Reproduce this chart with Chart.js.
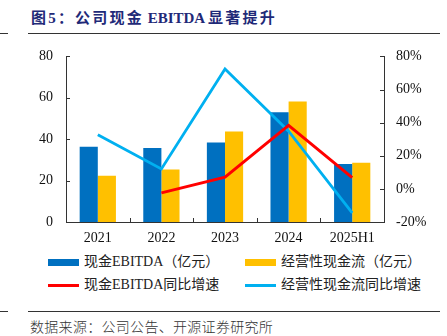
<!DOCTYPE html>
<html>
<head>
<meta charset="utf-8">
<script src="https://cdn.jsdelivr.net/npm/chart.js@4.4.1/dist/chart.umd.min.js"></script>
<style>
  body { margin: 0; width: 447px; height: 336px; background: #fff; position: relative; overflow: hidden;
         font-family: "Liberation Serif", "Noto Sans CJK SC", serif; }
  .title { position: absolute; left: 31px; top: 6px; font-size: 15px; font-weight: bold; color: #1f2a78;
           font-family: "Liberation Serif", "Noto Sans CJK SC", serif; white-space: nowrap; }
  .title .cjk { letter-spacing: 2.2px; }
  .rule { position: absolute; height: 1px; background: #333; }
  #box { position: absolute; left: 0; top: 35px; width: 447px; height: 215px; }
  #legend { position: absolute; left: 0; top: 253px; width: 447px; }
  .item { position: absolute; font-size: 14px; color: #222; white-space: nowrap; line-height: 18px; }
  .sw { position: absolute; left: 0; width: 31px; }
  .item span { position: absolute; left: 36px; top: 0; }
  .source { position: absolute; left: 30px; top: 316px; font-size: 14px; color: #333;
            font-family: "Noto Sans CJK SC", sans-serif; font-weight: 300; white-space: nowrap;
            letter-spacing: 0.3px; }
</style>
</head>
<body>
<div class="title"><span class="cjk">图5：公司现金</span> EBITDA <span class="cjk">显著提升</span></div>
<div class="rule" style="left:0;width:8px;top:33px"></div>
<div class="rule" style="left:28px;width:412px;top:33px"></div>
<div id="box"><canvas id="chart" width="447" height="215"></canvas></div>
<div id="legend"></div>
<div class="rule" style="left:0;width:8px;top:311px"></div>
<div class="rule" style="left:28px;width:412px;top:311px"></div>
<div class="source">数据来源：公司公告、开源证券研究所</div>
<script>
var years = ["2021", "2022", "2023", "2024", "2025H1"];
var ebitda = [36.4, 35.8, 38.4, 53.0, 28.0];      // 亿元
var opCash = [22.4, 25.4, 43.7, 58.2, 28.6];      // 亿元
var ebitdaYoy = [null, -2.4, 7.1, 38.3, 6.8];     // %
var opCashYoy = [32.7, 12.0, 72.4, 34.8, -14.5];  // %
var leftTicks = [0, 20, 40, 60, 80];
var rightTicks = [-20, 0, 20, 40, 60, 80];

var axisFont = { family: "Liberation Serif", size: 14 };

// small inward tick marks on both y axes, and category separators on x
var tickMarks = {
  id: "tickMarks",
  afterDraw: function(chart) {
    let ctx = chart.ctx;
    let area = chart.chartArea;
    ctx.save();
    ctx.strokeStyle = "#333";
    ctx.lineWidth = 1;
    ctx.beginPath();
    chart.scales.y.ticks.forEach(function(t) {
      let py = Math.round(chart.scales.y.getPixelForValue(t.value)) + 0.5;
      ctx.moveTo(area.left, py);
      ctx.lineTo(area.left + 4, py);
    });
    chart.scales.y1.ticks.forEach(function(t) {
      let py = Math.round(chart.scales.y1.getPixelForValue(t.value)) + 0.5;
      ctx.moveTo(area.right, py);
      ctx.lineTo(area.right - 4, py);
    });
    let x = chart.scales.x;
    for (let i = 1; i < years.length; i++) {
      let px = Math.round((x.getPixelForTick(i - 1) + x.getPixelForTick(i)) / 2) + 0.5;
      ctx.moveTo(px, area.bottom);
      ctx.lineTo(px, area.bottom - 4);
    }
    ctx.stroke();
    ctx.restore();
  }
};

var chart = new Chart(document.getElementById("chart"), {
  data: {
    labels: years,
    datasets: [
      { type: "line", label: "现金EBITDA同比增速", data: ebitdaYoy, yAxisID: "y1",
        borderColor: "#ff0000", backgroundColor: "#ff0000", borderWidth: 3,
        pointRadius: 0, tension: 0, order: 0 },
      { type: "line", label: "经营性现金流同比增速", data: opCashYoy, yAxisID: "y1",
        borderColor: "#00b0f0", backgroundColor: "#00b0f0", borderWidth: 2.8,
        pointRadius: 0, tension: 0, order: 0 },
      { type: "bar", label: "现金EBITDA（亿元）", data: ebitda, yAxisID: "y",
        backgroundColor: "#0070c0", order: 1,
        categoryPercentage: 0.57, barPercentage: 1 },
      { type: "bar", label: "经营性现金流（亿元）", data: opCash, yAxisID: "y",
        backgroundColor: "#ffc000", order: 1,
        categoryPercentage: 0.57, barPercentage: 1 }
    ]
  },
  options: {
    responsive: false,
    animation: false,
    layout: { padding: { top: 11, left: 0, right: 0, bottom: 0 } },
    plugins: { legend: { display: false }, tooltip: { enabled: false } },
    scales: {
      x: {
        grid: { display: false, drawTicks: false },
        border: { display: true, color: "#333", width: 1 },
        ticks: { color: "#111", font: { family: "Liberation Serif", size: 14 }, padding: 8, maxRotation: 0 },
        afterFit: function(s) { s.height = 28; }
      },
      y: {
        position: "left", min: 0, max: 80,
        grid: { display: false, drawTicks: false },
        border: { display: true, color: "#333", width: 1 },
        ticks: { color: "#111", font: axisFont, padding: 13, stepSize: 20 },
        afterBuildTicks: function(s) { s.ticks = leftTicks.map(function(v) { return { value: v }; }); },
        afterFit: function(s) { s.width = 66; }
      },
      y1: {
        position: "right", min: -20, max: 80,
        grid: { display: false, drawTicks: false },
        border: { display: true, color: "#333", width: 1 },
        ticks: { color: "#111", font: axisFont, padding: 12, stepSize: 20,
                 callback: function(v) { return v + "%"; } },
        afterBuildTicks: function(s) { s.ticks = rightTicks.map(function(v) { return { value: v }; }); },
        afterFit: function(s) { s.width = 63; }
      }
    }
  },
  plugins: [tickMarks]
});

// legend laid out in two rows: bars on top, lines below
var legend = document.getElementById("legend");
var order = [2, 3, 0, 1];
order.forEach(function(idx, n) {
  let ds = chart.data.datasets[idx];
  let item = document.createElement("div");
  item.className = "item";
  item.style.left = (n % 2 === 0 ? 48 : 245) + "px";
  item.style.top = (n < 2 ? 0 : 23) + "px";
  let sw = document.createElement("div");
  sw.className = "sw";
  let h = ds.type === "bar" ? 7 : 3;
  sw.style.height = h + "px";
  sw.style.top = (9 - h / 2) + "px";
  sw.style.background = ds.type === "bar" ? ds.backgroundColor : ds.borderColor;
  item.appendChild(sw);
  let txt = document.createElement("span");
  txt.textContent = ds.label;
  item.appendChild(txt);
  legend.appendChild(item);
});
</script>
</body>
</html>
